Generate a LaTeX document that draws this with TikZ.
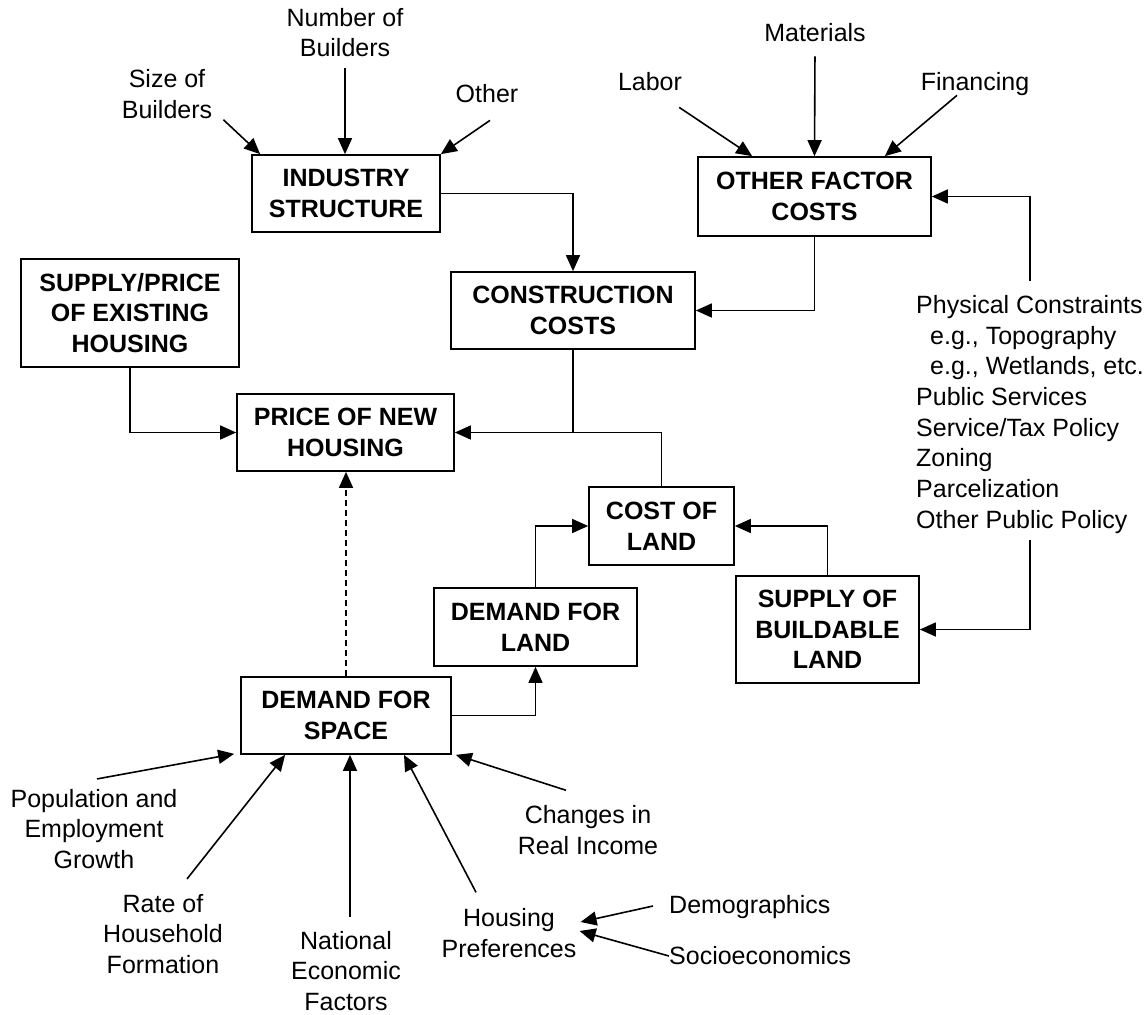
\documentclass[tikz,border=0pt]{standalone}
\usepackage{fontspec}
\setmainfont{Liberation Sans}
\usetikzlibrary{arrows.meta}

\begin{document}
\begin{tikzpicture}[x=1pt, y=-1pt,
		box/.style={draw, line width=1.7pt, align=center, inner sep=0pt, font=\fontsize{25pt}{30.7pt}\selectfont\bfseries},
		lbl/.style={align=center, inner sep=6pt, font=\fontsize{25pt}{30.7pt}\selectfont},
		arr/.style={line width=1.6pt, -{Triangle[length=16pt, width=14pt]}}]
		\useasboundingbox (0,0) rectangle (1147,1014);

		% boxes
		\node[box, minimum width=188pt, minimum height=77pt] (ind) at (346,193.5) {INDUSTRY\\STRUCTURE};
		\node[box, minimum width=233pt, minimum height=79pt] (ofc) at (814.5,196.5) {OTHER FACTOR\\COSTS};
		\node[box, minimum width=244pt, minimum height=77pt] (con) at (573,310.5) {CONSTRUCTION\\COSTS};
		\node[box, minimum width=218pt, minimum height=108pt] (sup) at (130,313) {SUPPLY/PRICE\\OF EXISTING\\HOUSING};
		\node[box, minimum width=217pt, minimum height=77pt] (pnh) at (345.5,432.5) {PRICE OF NEW\\HOUSING};
		\node[box, minimum width=145pt, minimum height=78pt] (col) at (661.5,526) {COST OF\\LAND};
		\node[box, minimum width=203pt, minimum height=78pt] (dfl) at (535.5,627) {DEMAND FOR\\LAND};
		\node[box, minimum width=183pt, minimum height=107pt] (sbl) at (827.5,629.5) {SUPPLY OF\\BUILDABLE\\LAND};
		\node[box, minimum width=210pt, minimum height=77pt] (dfs) at (346,715.5) {DEMAND FOR\\SPACE};

		% factors
		\node[lbl] (nob) at (345,32.5) {Number of\\Builders};
		\node[lbl] (sob) at (167,94) {Size of\\Builders};
		\node[lbl] (oth) at (487,94) {Other};
		\node[lbl] (mat) at (815,33) {Materials};
		\node[lbl] (lab) at (650,82) {Labor};
		\node[lbl] (fin) at (975,84.5) {Financing};
		\node[lbl, align=left, inner sep=0pt, anchor=north west] (pcs) at (916,295)
			{Physical Constraints\\\hspace*{14pt}e.g., Topography\\\hspace*{14pt}e.g., Wetlands, etc.\\Public Services\\Service/Tax Policy\\Zoning\\Parcelization\\Other Public Policy};
		\node[lbl] (pop) at (94,829) {Population and\\Employment\\Growth};
		\node[lbl] (rate) at (163,934) {Rate of\\Household\\Formation};
		\node[lbl] (nat) at (346,971) {National\\Economic\\Factors};
		\node[lbl] (hp) at (509,933) {Housing\\Preferences};
		\node[lbl] (cri) at (588,830) {Changes in\\Real Income};
		\node[lbl, anchor=west] (dem) at (663,907.5) {Demographics};
		\node[lbl, anchor=west] (soc) at (663,956) {Socioeconomics};

		% links between boxes
		\draw[arr] (ind.east) -| (con.north);
		\draw[arr] (ofc.south) |- (con.east);
		\draw[arr] (sup.south) |- (pnh.west);
		\draw[line width=1.6pt] (con.south) -- (con.south |- pnh.east);
		\draw[arr] (col.north) |- (pnh.east);
		\draw[arr, dash pattern=on 6pt off 4pt] (dfs.north) -- (dfs.north |- pnh.south);
		\draw[arr] (dfs.east) -| (dfl.south);
		\draw[arr] (dfl.north) |- (col.west);
		\draw[arr] (sbl.north) |- (col.east);
		\draw[arr] ([yshift=14pt]pcs.north) |- (ofc.east);
		\draw[arr] ([yshift=-6pt]pcs.south) |- (sbl.east);

		% factor arrows
		\draw[arr, shorten <=5pt] (nob.south) -- (nob.south |- ind.north);
		\draw[arr] ([xshift=5pt,yshift=5pt]sob.south east) -- ([xshift=9pt]ind.north west);
		\draw[arr] ([xshift=3pt,yshift=-11pt]oth.south) -- (ind.north east);
		\draw[arr, shorten <=8pt] (mat.south) -- (ofc.north);
		\draw[arr] ([xshift=-9pt,yshift=-10pt]lab.south east) -- ([xshift=55pt]ofc.north west);
		\draw[arr] ([xshift=-18pt,yshift=7pt]fin.south) -- ([xshift=-47pt]ofc.north east);
		\draw[arr] ([xshift=3pt,yshift=4pt]pop.north) -- ([xshift=-6pt,yshift=1pt]dfs.south west);
		\draw[arr] ([xshift=24pt,yshift=9pt]rate.north) -- ([xshift=45pt]dfs.south west);
		\draw[arr] ([xshift=4pt,yshift=8pt]nat.north) -- ([xshift=4pt]dfs.south);
		\draw[arr] ([xshift=-33pt,yshift=10pt]hp.north) -- ([xshift=58pt]dfs.south);
		\draw[arr] ([xshift=-22pt,yshift=9pt]cri.north) -- ([xshift=4pt]dfs.south east);
		\draw[arr] ([xshift=-10pt,yshift=1.5pt]dem.west) -- ([xshift=-2pt,yshift=11pt]hp.east);
		\draw[arr] ([xshift=6pt]soc.west) -- ([xshift=-3pt,yshift=2pt]hp.east);
\end{tikzpicture}
\end{document}
